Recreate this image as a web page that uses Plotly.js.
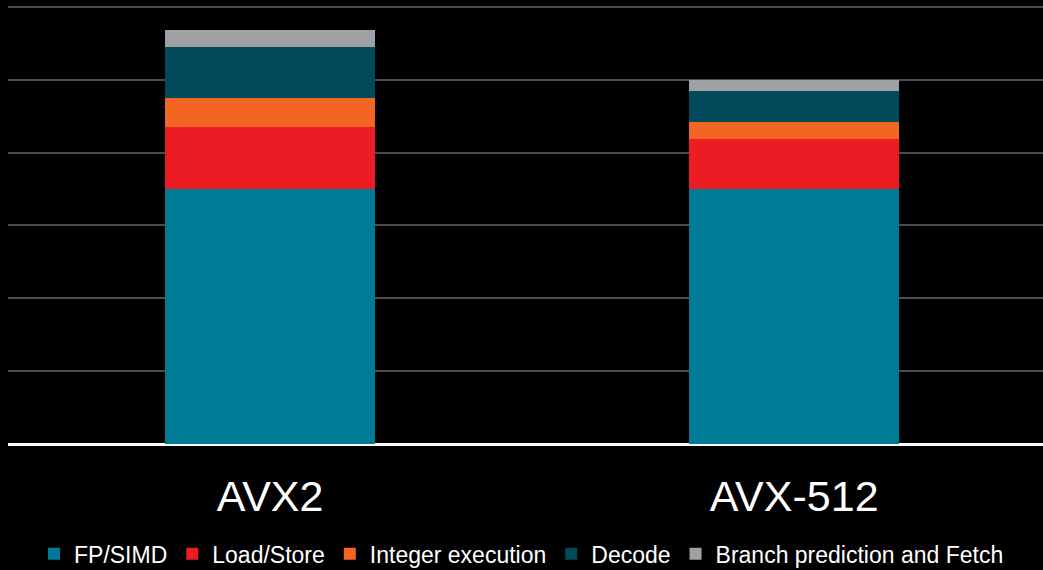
<!DOCTYPE html>
<html>
<head>
<meta charset="utf-8">
<script src="https://cdn.plot.ly/plotly-3.0.1.min.js"></script>
<style>html,body{margin:0;padding:0;background:#000;}#chart{width:1043px;height:570px;}</style>
</head>
<body>
<div id="chart"></div>
<script>
const categories = ["AVX2", "AVX-512"];
const fpSimd = [3.50, 3.50];
const loadStore = [0.85, 0.69];
const integerExec = [0.40, 0.23];
const decode = [0.70, 0.43];
const branchFetch = [0.24, 0.15];

const seriesNames = ["FP/SIMD", "Load/Store", "Integer execution", "Decode", "Branch prediction and Fetch"];
const seriesValues = [fpSimd, loadStore, integerExec, decode, branchFetch];
const seriesColors = ["#007B96", "#EC1C24", "#F26522", "#004A5A", "#A0A1A5"];

const traces = seriesNames.map((n, i) => ({
  type: "bar",
  name: n,
  x: categories,
  y: seriesValues[i],
  marker: {color: seriesColors[i], line: {width: 0}},
  width: 0.4,
  hoverinfo: "x+y+name"
}));

const layout = {
  width: 1043, height: 570,
  paper_bgcolor: "#000", plot_bgcolor: "#000",
  barmode: "stack",
  margin: {l: 8, r: 0, t: 5, b: 126, autoexpand: false},
  showlegend: true,
  legend: {
    orientation: "h", x: 0.5, xanchor: "center", xref: "container",
    y: 0.066, yanchor: "top", yref: "container",
    font: {family: "Liberation Sans, Arial", size: 23, color: "#fff"},
    itemwidth: 30, traceorder: "normal", tracegroupgap: 0
  },
  xaxis: {
    range: [-0.5, 1.475],
    showgrid: false, zeroline: false,
    showline: false,
    ticks: "outside", ticklen: 14, tickcolor: "rgba(0,0,0,0)",
    tickfont: {family: "Liberation Sans, Arial", size: 43, color: "#fff"}
  },
  yaxis: {
    range: [0, 6.027], dtick: 1,
    showticklabels: false,
    showgrid: true, gridcolor: "#4d4d4d", gridwidth: 2,
    zeroline: true, zerolinecolor: "#ffffff", zerolinewidth: 3
  }
};

Plotly.newPlot("chart", traces, layout, {displayModeBar: false});
</script>
</body>
</html>
